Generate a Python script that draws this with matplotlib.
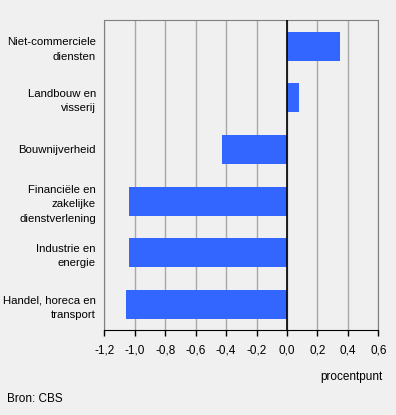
import matplotlib.pyplot as plt

categories = ["Niet-commerciele\ndiensten", "Landbouw en\nvisserij", "Bouwnijverheid",
              "Financiële en\nzakelijke\ndienstverlening", "Industrie en\nenergie",
              "Handel, horeca en\ntransport"]
values = [0.35, 0.08, -0.43, -1.04, -1.04, -1.06]
ticks = [-1.2, -1.0, -0.8, -0.6, -0.4, -0.2, 0.0, 0.2, 0.4, 0.6]
tick_labels = ["-1,2", "-1,0", "-0,8", "-0,6", "-0,4", "-0,2", "0,0", "0,2", "0,4", "0,6"]

plt.rcParams['font.family'] = ['Liberation Sans', 'DejaVu Sans']
bg = '#f0f0f0'

fig = plt.figure(figsize=(3.96, 4.15), dpi=100, facecolor=bg)
ax = fig.add_axes([104.3 / 396, 1 - 330.3 / 415, 274 / 396, 310 / 415], facecolor=bg)

ypos = list(range(len(categories)))
ax.barh(ypos, values, height=0.56, color='#3366ff', zorder=3)
ax.axvline(0, color='black', lw=1.2, zorder=4)

ax.set_xlim(-1.2, 0.6)
ax.set_ylim(len(categories) - 0.5, -0.5)
ax.set_xticks(ticks)
ax.set_xticklabels(tick_labels, fontsize=8.5)
ax.set_yticks(ypos)
ax.set_yticklabels(categories, fontsize=8.2, linespacing=1.55)
ax.tick_params(axis='y', length=0, pad=6)
ax.tick_params(axis='x', length=4, width=1, color='black', pad=6)
ax.grid(axis='x', color='#a8a8a8', lw=1, zorder=0)

for s in ['left', 'top', 'right']:
    ax.spines[s].set_color('#808080')
ax.spines['bottom'].set_color('black')

fig.text(383 / 396, 1 - 377 / 415, "procentpunt", ha='right', va='center', fontsize=8.5)
fig.text(6.7 / 396, 1 - 399 / 415, "Bron: CBS", ha='left', va='center', fontsize=8.5)

plt.savefig('out.png', dpi=100, facecolor=bg)
